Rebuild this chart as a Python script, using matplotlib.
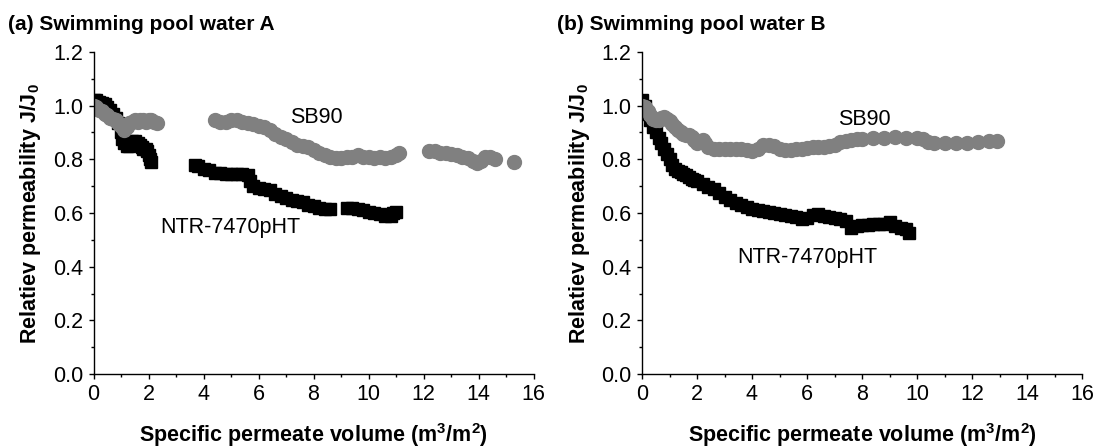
import matplotlib
matplotlib.use("Agg")
import matplotlib.pyplot as plt
from matplotlib.ticker import MultipleLocator

plt.rcParams['font.family'] = ['Liberation Sans', 'DejaVu Sans']
plt.rcParams['mathtext.fontset'] = 'custom'
plt.rcParams['mathtext.rm'] = 'Liberation Sans'
plt.rcParams['mathtext.bf'] = 'Liberation Sans:bold'

# ---------------- Panel (a): Swimming pool water A ----------------
a_sb90_x = [0.0, 0.1, 0.2, 0.3, 0.4, 0.5, 0.6, 0.7, 0.8, 0.9, 1.0, 1.1, 1.2, 1.3, 1.4,
            1.5, 1.6, 1.7, 1.8, 1.9, 2.0, 2.1, 2.2, 2.3,
            4.4, 4.6, 4.8, 5.0, 5.2, 5.4, 5.6, 5.8, 6.0, 6.2, 6.4, 6.6, 6.8, 7.0, 7.2,
            7.4, 7.6, 7.8, 8.0, 8.2, 8.4, 8.6, 8.8, 9.0, 9.2, 9.4, 9.6, 9.8, 10.0,
            10.2, 10.4, 10.6, 10.8, 11.0, 11.1,
            12.2, 12.4, 12.6, 12.8, 13.0, 13.2, 13.4, 13.6, 13.8, 13.95, 14.1, 14.25,
            14.4, 14.6, 15.3]
a_sb90_y = [1.000, 0.995, 0.985, 0.980, 0.970, 0.965, 0.955, 0.950, 0.945, 0.935,
            0.925, 0.910, 0.920, 0.935, 0.940, 0.945, 0.940, 0.945, 0.945, 0.940,
            0.945, 0.945, 0.940, 0.935,
            0.945, 0.940, 0.940, 0.945, 0.945, 0.940, 0.935, 0.930, 0.925, 0.920,
            0.910, 0.895, 0.885, 0.875, 0.865, 0.855, 0.850, 0.845, 0.835, 0.825,
            0.815, 0.810, 0.805, 0.805, 0.810, 0.810, 0.815, 0.810, 0.810, 0.805,
            0.810, 0.805, 0.810, 0.815, 0.825,
            0.830, 0.830, 0.825, 0.825, 0.820, 0.815, 0.810, 0.805, 0.795, 0.785,
            0.795, 0.810, 0.810, 0.800, 0.790]

a_ntr_x = [0.0, 0.1, 0.2, 0.3, 0.4, 0.5, 0.6, 0.7, 0.8, 0.9, 1.0, 1.05, 1.1, 1.2,
           1.3, 1.4, 1.5, 1.6, 1.7, 1.75, 1.8, 1.9, 1.95, 2.0, 2.05, 2.1,
           3.7, 3.8, 4.0, 4.2, 4.4, 4.6, 4.8, 5.0, 5.2, 5.4, 5.6, 5.7, 5.8, 6.0,
           6.2, 6.4, 6.6, 6.8, 7.0, 7.2, 7.4, 7.6, 7.8, 8.0, 8.2, 8.4, 8.6,
           9.2, 9.4, 9.6, 9.8, 10.0, 10.2, 10.4, 10.6, 10.8, 10.9, 11.0]
a_ntr_y = [1.020, 1.020, 1.015, 1.010, 1.005, 0.995, 0.985, 0.970, 0.955, 0.935,
           0.900, 0.875, 0.860, 0.850, 0.850, 0.870, 0.870, 0.860, 0.855, 0.845,
           0.840, 0.840, 0.830, 0.815, 0.800, 0.790,
           0.780, 0.775, 0.765, 0.760, 0.750, 0.750, 0.745, 0.745, 0.745, 0.745,
           0.740, 0.720, 0.700, 0.695, 0.690, 0.685, 0.670, 0.662, 0.655, 0.650,
           0.645, 0.640, 0.630, 0.625, 0.620, 0.615, 0.615,
           0.620, 0.620, 0.615, 0.610, 0.605, 0.600, 0.595, 0.590, 0.590, 0.600,
           0.605]

# ---------------- Panel (b): Swimming pool water B ----------------
b_sb90_x = [0.0, 0.1, 0.2, 0.3, 0.4, 0.5, 0.6, 0.7, 0.8, 0.9, 1.0, 1.1, 1.2, 1.3,
            1.4, 1.5, 1.6, 1.7, 1.8, 1.9, 2.0, 2.1, 2.2, 2.3, 2.4, 2.6, 2.8, 3.0,
            3.2, 3.4, 3.6, 3.8, 4.0, 4.2, 4.4, 4.6, 4.8, 5.0, 5.2, 5.4, 5.6, 5.8,
            6.0, 6.2, 6.4, 6.6, 6.8, 7.0, 7.2, 7.4, 7.6, 7.8, 8.0, 8.4, 8.8, 9.2,
            9.6, 10.0, 10.2, 10.4, 10.6, 11.0, 11.4, 11.8, 12.2, 12.6, 12.9]
b_sb90_y = [1.000, 0.995, 0.980, 0.965, 0.950, 0.945, 0.947, 0.955, 0.958, 0.952,
            0.942, 0.930, 0.920, 0.910, 0.900, 0.895, 0.892, 0.890, 0.885, 0.872,
            0.862, 0.868, 0.872, 0.862, 0.845, 0.840, 0.840, 0.840, 0.840, 0.840,
            0.838, 0.835, 0.830, 0.840, 0.852, 0.853, 0.848, 0.840, 0.836, 0.836,
            0.838, 0.840, 0.842, 0.845, 0.846, 0.846, 0.848, 0.855, 0.865, 0.870,
            0.872, 0.875, 0.876, 0.878, 0.880, 0.882, 0.880, 0.880, 0.877, 0.865,
            0.860, 0.860, 0.862, 0.862, 0.865, 0.868, 0.870]

b_ntr_x = [0.0, 0.1, 0.2, 0.3, 0.4, 0.5, 0.6, 0.7, 0.8, 0.9, 1.0, 1.1, 1.2, 1.3,
           1.4, 1.5, 1.6, 1.7, 1.8, 1.9, 2.0, 2.2, 2.4, 2.6, 2.8, 3.0, 3.2, 3.4,
           3.6, 3.8, 4.0, 4.2, 4.4, 4.6, 4.8, 5.0, 5.2, 5.4, 5.6, 5.8, 6.0, 6.2,
           6.4, 6.6, 6.8, 7.0, 7.2, 7.4, 7.6, 7.8, 8.0, 8.2, 8.4, 8.6, 8.8, 9.0,
           9.2, 9.4, 9.6, 9.7]
b_ntr_y = [1.020, 1.000, 0.970, 0.945, 0.920, 0.900, 0.880, 0.860, 0.840, 0.820,
           0.800, 0.780, 0.765, 0.757, 0.752, 0.746, 0.740, 0.733, 0.727, 0.722,
           0.718, 0.708, 0.698, 0.688, 0.675, 0.660, 0.647, 0.637, 0.630, 0.622,
           0.615, 0.610, 0.607, 0.605, 0.600, 0.595, 0.592, 0.590, 0.585, 0.578,
           0.580, 0.592, 0.595, 0.590, 0.585, 0.582, 0.578, 0.572, 0.545, 0.550,
           0.555, 0.555, 0.560, 0.560, 0.560, 0.565, 0.550, 0.545, 0.540, 0.525]

titles = ['(a) Swimming pool water A', '(b) Swimming pool water B']
x_ticks = [0, 2, 4, 6, 8, 10, 12, 14, 16]
y_ticks = [0.0, 0.2, 0.4, 0.6, 0.8, 1.0, 1.2]
x_label = r'Specific permeate volume (m$^\mathbf{3}$/m$^\mathbf{2}$)'
y_label = r'Relatiev permeability J/J$_\mathbf{0}$'
label_sb90 = 'SB90'
label_ntr = 'NTR-7470pHT'
ann_a = [(8.1, 0.955), (4.98, 0.545)]
ann_b = [(8.1, 0.948), (6.0, 0.433)]

GRAY = '#808080'
BLACK = '#000000'
FS = 15.5

W, H = 1099, 447
fig = plt.figure(figsize=(W / 100, H / 100), dpi=100)

panels = [
    (a_sb90_x, a_sb90_y, a_ntr_x, a_ntr_y, ann_a, 93.5, 8),
    (b_sb90_x, b_sb90_y, b_ntr_x, b_ntr_y, ann_b, 642, 557),
]

for i, (sx, sy, nx, ny, ann, left_px, title_px) in enumerate(panels):
    ax = fig.add_axes([left_px / W, (H - 374) / H, 440 / W, 322 / H])
    ax.plot(nx, ny, linestyle='none', marker='s', ms=9, color=BLACK, mec=BLACK)
    ax.plot(sx, sy, linestyle='none', marker='o', ms=10, color=GRAY, mec=GRAY)
    ax.set_xlim(0, 16)
    ax.set_ylim(0, 1.2)
    ax.set_xticks(x_ticks)
    ax.set_yticks(y_ticks)
    ax.set_yticklabels([f'{v:.1f}' for v in y_ticks])
    ax.xaxis.set_minor_locator(MultipleLocator(1))
    ax.yaxis.set_minor_locator(MultipleLocator(0.1))
    ax.tick_params(which='major', direction='out', length=3.5, width=1, labelsize=FS, pad=4)
    ax.tick_params(which='minor', direction='out', length=2.2, width=1)
    for s in ['top', 'right']:
        ax.spines[s].set_visible(False)
    for s in ['left', 'bottom']:
        ax.spines[s].set_linewidth(1)
    ax.text(ann[0][0], ann[0][1], label_sb90, fontsize=FS, ha='center', va='center')
    ax.text(ann[1][0], ann[1][1], label_ntr, fontsize=FS, ha='center', va='center')
    # axis labels
    cx = (left_px + 440 / 2) / W
    fig.text(cx, 1 - 442 / H, x_label, fontsize=FS, fontweight='bold',
             ha='center', va='baseline')
    fig.text((left_px - 63) / W, 1 - 214 / H, y_label, fontsize=FS, fontweight='bold',
             ha='center', va='center', rotation=90)
    fig.text(title_px / W, 1 - 25 / H, titles[i], fontsize=15, fontweight='bold',
             ha='left', va='center')

fig.savefig('out.png', dpi=100)
